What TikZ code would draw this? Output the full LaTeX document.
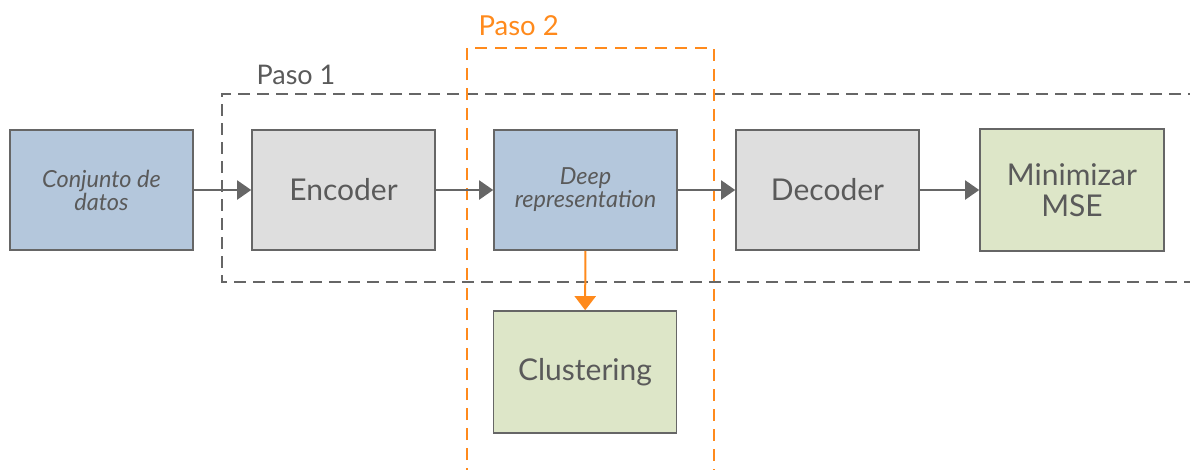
\documentclass[tikz,border=0pt]{standalone}
\usepackage{fontspec}
\setmainfont{Lato}
\usetikzlibrary{arrows.meta}
\definecolor{txt}{HTML}{5A5A5A}
\definecolor{edge}{HTML}{666666}
\definecolor{bluefill}{HTML}{B4C7DC}
\definecolor{grayfill}{HTML}{DEDEDE}
\definecolor{greenfill}{HTML}{DDE6C8}
\definecolor{orng}{HTML}{FF8A1C}
\tikzset{
  blk/.style={draw=edge, line width=1.6pt, minimum width=183pt, minimum height=120pt,
    inner sep=0pt, text=txt, align=center, font=\fontsize{30}{31}\selectfont},
  blue/.style={blk, fill=bluefill},
  grey/.style={blk, fill=grayfill},
  green/.style={blk, fill=greenfill},
  small/.style={font=\itshape\fontsize{23.5}{23}\selectfont},
  conn/.style={draw=edge, line width=2pt, -{Triangle[length=14pt,width=19pt]}},
  oconn/.style={draw=orng, line width=2pt, -{Triangle[length=14pt,width=21pt]}},
  frame1/.style={draw=edge, line width=2pt, dash pattern=on 12pt off 7pt},
  frame2/.style={draw=orng, line width=2.3pt, dash pattern=on 12pt off 8pt},
}
\begin{document}
\begin{tikzpicture}[x=1pt,y=-1pt]
\useasboundingbox (0,0) rectangle (1190,469);
\begin{scope}
\clip (0,0) rectangle (1190,469);
% step frames
\draw[frame1] (1200,94) -- (222,94) -- (222,282) -- (1200,282);
\draw[frame2] (467,480) -- (467,48) -- (714,48) -- (714,480);
\end{scope}
\node[text=txt, anchor=west, font=\fontsize{27}{30}\selectfont] (p1) at (253,75) {Paso 1};
\node[text=orng, anchor=west, font=\fontsize{27.5}{30}\selectfont] (p2) at (475,26) {Paso 2};
% blocks
\node[blue, small] (data) at (101.5,190) {Conjunto de\\datos};
\node[grey] (enc) at (343.5,190) {Encoder};
\node[blue, small] (deep) at (585.5,190) {Deep\\representation};
\node[grey] (dec) at (827.5,190) {Decoder};
\node[green, minimum width=184pt, minimum height=122pt] (mse) at (1072,190) {Minimizar\\MSE};
\node[green, minimum height=122pt] (clu) at (585,372) {Clustering};
% connectors
\draw[conn] (data) -- (enc);
\draw[conn] (enc) -- (deep);
\draw[conn] (deep) -- (dec);
\draw[conn] (dec) -- (mse);
\draw[oconn] (deep) -- (clu);
\end{tikzpicture}
\end{document}
